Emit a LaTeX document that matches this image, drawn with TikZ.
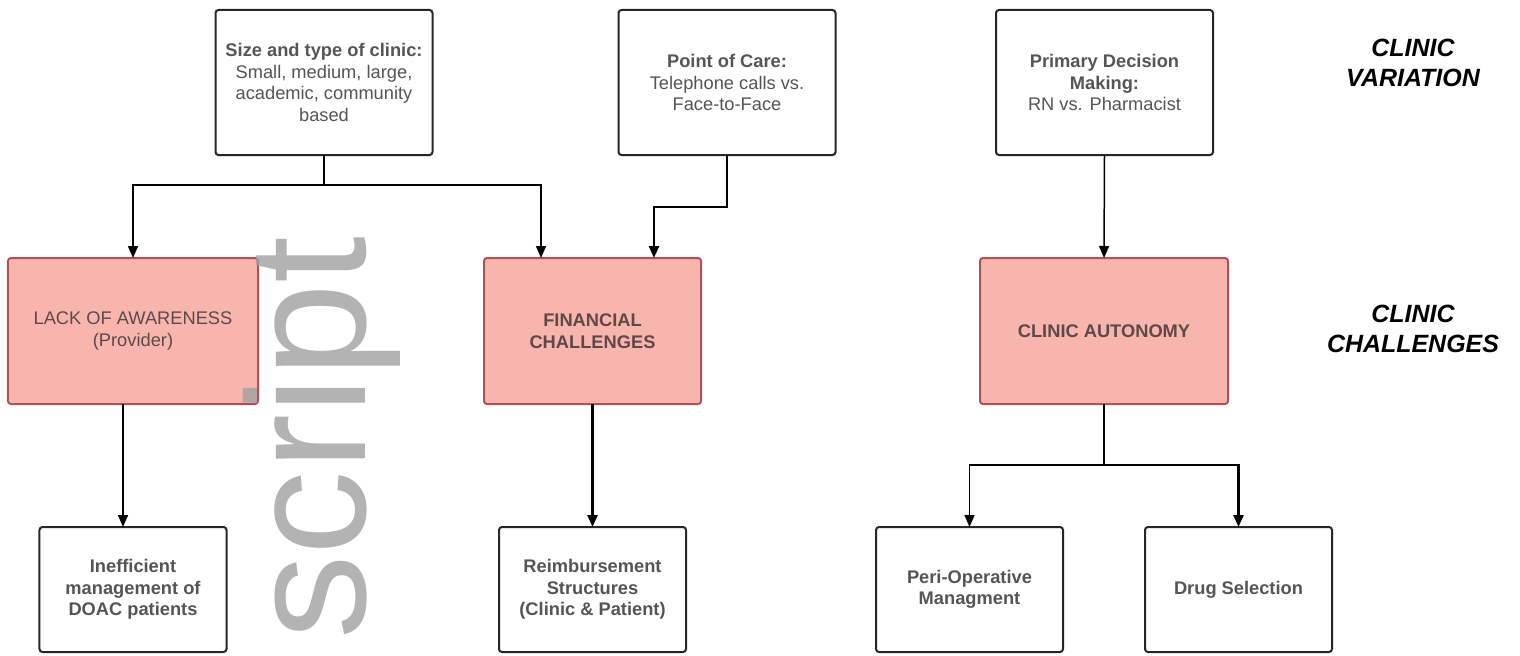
\documentclass[tikz,border=0pt]{standalone}
\usepackage{fontspec}
\setmainfont{Liberation Sans}
\usetikzlibrary{arrows.meta}
\definecolor{boxtext}{HTML}{555555}
\definecolor{redfill}{HTML}{F8B5AE}
\definecolor{reddraw}{HTML}{B0505A}
\definecolor{redtext}{HTML}{5E4848}
\definecolor{markgray}{HTML}{A0A0A0}
\tikzset{
  boxbase/.style={shape=rectangle, rounded corners=0.6mm, align=center, inner sep=0pt, outer sep=0pt, font=\fontsize{10.4}{12.3}\selectfont},
  varbox/.style={boxbase, draw=black!85, line width=0.4mm, fill=white, text=boxtext, minimum width=43.4mm, minimum height=29mm},
  chalbox/.style={boxbase, draw=reddraw, line width=0.4mm, fill=redfill, text=redtext, minimum height=29.2mm},
  leafbox/.style={boxbase, draw=black!85, line width=0.4mm, fill=white, text=boxtext, minimum width=37.4mm, minimum height=25mm, font=\fontsize{10.4}{12.3}\selectfont\bfseries},
  rowlabel/.style={align=center, font=\fontsize{14.2}{17}\selectfont\bfseries\itshape},
  link/.style={line width=0.3mm},
  arr/.style={link, -{Triangle[length=2.4mm,width=2mm]}},
}
\begin{document}
\begin{tikzpicture}[x=0.2mm, y=-0.2mm]
\useasboundingbox (0,0) rectangle (1520,656);
\node (size) [varbox] at (324,82.5) {\textbf{Size and type of clinic:}\\Small, medium, large,\\academic, community\\based};
\node (poc) [varbox] at (727,82.5) {\textbf{Point of Care:}\\Telephone calls vs.\\Face-to-Face};
\node (pdm) [varbox] at (1104.5,82.5) {\textbf{Primary Decision}\\\textbf{Making:}\\RN vs. Pharmacist};
\node (lack) [chalbox, minimum width=50mm] at (133,331) {LACK OF AWARENESS\\(Provider)};
\node (fin) [chalbox, minimum width=43.4mm] at (592.5,331) {\textbf{FINANCIAL}\\\textbf{CHALLENGES}};
\node (aut) [chalbox, minimum width=49.6mm] at (1104,331) {\textbf{CLINIC AUTONOMY}};
\node (ineff) [leafbox] at (133,589.5) {Inefficient\\management of\\DOAC patients};
\node (reimb) [leafbox] at (592.5,589.5) {Reimbursement\\Structures\\(Clinic \& Patient)};
\node (peri) [leafbox] at (969.5,589.5) {Peri-Operative\\Managment};
\node (drug) [leafbox] at (1238.5,589.5) {Drug Selection};
\node (var) [rowlabel] at (1413,63) {CLINIC\\VARIATION};
\node (chal) [rowlabel] at (1413,329) {CLINIC\\CHALLENGES};
\coordinate (sizej) at (324,185);
\coordinate (pocj) at (654,207);
\coordinate (autj) at (1104,465);
\draw[link] (size.south) -- (sizej);
\draw[arr] (sizej) -| (lack.north);
\draw[arr] (sizej) -| ([xshift=-10.3mm]fin.north);
\draw[arr, line width=0.5mm] (poc.south) |- (pocj) -- (pocj |- fin.north);
\draw[arr] (pdm.south) -- (aut.north);
\draw[arr] ([xshift=-2mm]lack.south) -- ([xshift=-2mm]ineff.north);
\draw[arr, line width=0.5mm] (fin.south) -- (reimb.north);
\draw[link] (aut.south) -- (autj);
\draw[arr] (autj) -| (peri.north);
\draw[arr, line width=0.5mm] (autj) -| (drug.north);
\node (mark) [rotate=90, anchor=base west, inner sep=0pt, text=markgray, opacity=0.8, font=\fontsize{96}{100}\selectfont] at (365,640) {script};
\end{tikzpicture}
\end{document}
